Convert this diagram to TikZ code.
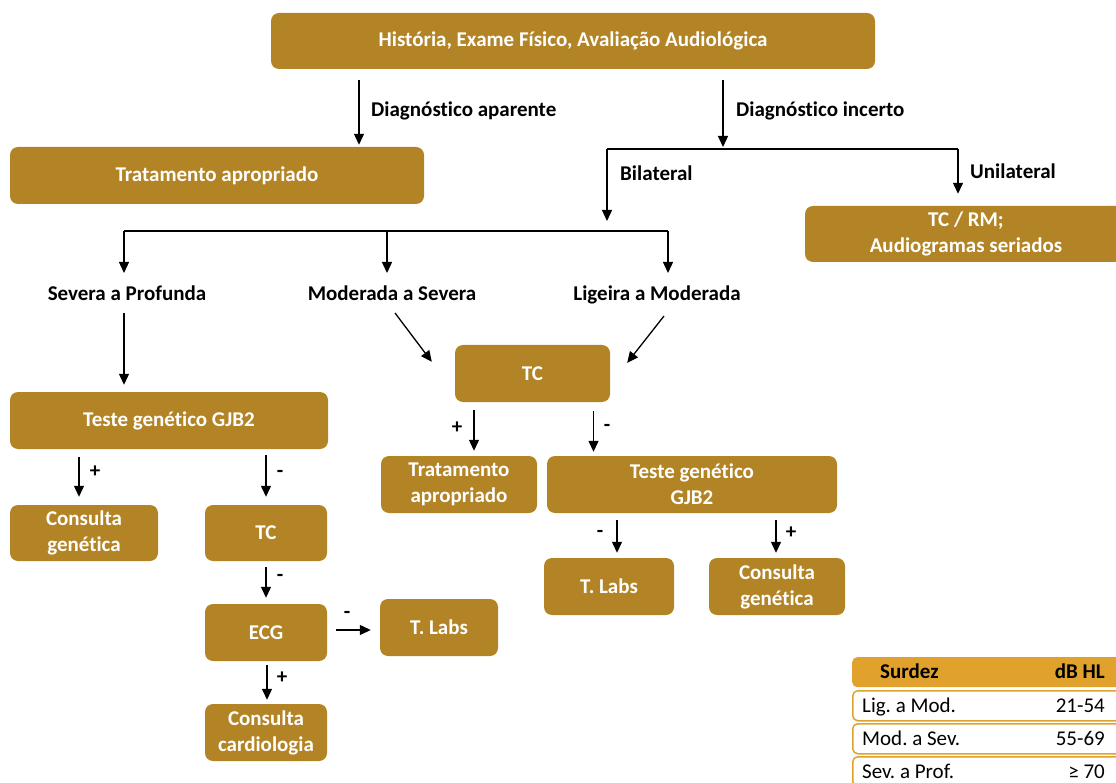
\documentclass[tikz,border=0pt]{standalone}
\usepackage{fontspec}
\setmainfont{Carlito}[Ligatures=NoCommon]
\usetikzlibrary{arrows.meta,calc}
\definecolor{gold}{HTML}{B38425}
\definecolor{hdrgold}{HTML}{E0A22C}
\frenchspacing
\begin{document}
\begin{tikzpicture}[x=1pt,y=-1pt,
  box/.style={fill=gold, rounded corners=8pt, text=white, font=\bfseries\fontsize{21}{26}\selectfont, align=center, inner sep=0pt},
  lbl/.style={font=\bfseries\fontsize{21}{24}\selectfont, text=black, inner sep=0pt},
  tbl/.style={font=\fontsize{21}{24}\selectfont, text=black, inner sep=0pt},
  arr/.style={-{Triangle[length=11pt,width=10pt]}, line width=1.3pt},
  ln/.style={line width=1.3pt},
  hdr/.style={fill=hdrgold, rounded corners=5pt, inner sep=0pt, minimum width=273pt, minimum height=30pt, anchor=north west},
  rowb/.style={draw=hdrgold, fill=white, line width=1.5pt, rounded corners=5pt, inner sep=0pt, minimum width=273pt, minimum height=30pt, anchor=north west}]
\useasboundingbox (0,0) rectangle (1116,783);

% boxes
\node[box, minimum width=604pt, minimum height=56pt] (hist) at (573,41) {História, Exame Físico, Avaliação Audiológica};
\node[box, minimum width=414pt, minimum height=57pt] (trat1) at (217,175.5) {Tratamento apropriado};
\node[box, minimum width=322pt, minimum height=56pt] (tcrm) at (966,234) {TC / RM;\\Audiogramas seriados};
\node[box, minimum width=155pt, minimum height=57pt] (tc1) at (532.5,373.5) {TC};
\node[box, minimum width=318pt, minimum height=57pt] (gjb1) at (169,420.5) {Teste genético GJB2};
\node[box, minimum width=148pt, minimum height=56pt] (cg1) at (84,533) {Consulta\\genética};
\node[box, minimum width=122pt, minimum height=56pt] (tc2) at (266,533) {TC};
\node[box, minimum width=122pt, minimum height=57pt] (ecg) at (266,632.5) {ECG};
\node[box, minimum width=118pt, minimum height=57pt] (tlabs1) at (439,627.5) {T. Labs};
\node[box, minimum width=122pt, minimum height=57pt] (ccard) at (266,732.5) {Consulta\\cardiologia};
\node[box, minimum width=156pt, minimum height=57pt] (trat2) at (459,484.5) {Tratamento\\apropriado};
\node[box, minimum width=290pt, minimum height=57pt] (gjb2) at (692,484.5) {Teste genético\\GJB2};
\node[box, minimum width=130pt, minimum height=57pt] (tlabs2) at (609,586.5) {T. Labs};
\node[box, minimum width=136pt, minimum height=57pt] (cg2) at (777,586.5) {Consulta\\genética};

% category labels
\node[lbl, anchor=base] (sev) at (127,301) {Severa a Profunda};
\node[lbl, anchor=base] (mod) at (392,301) {Moderada a Severa};
\node[lbl, anchor=base] (lig) at (657,301) {Ligeira a Moderada};

% column coordinates
\coordinate (cA) at (359,0);
\coordinate (cB) at (723,0);
\coordinate (cL) at (607,149);
\coordinate (cR) at (958,149);
\coordinate (bL) at (124,231);
\coordinate (bM) at (387,231);
\coordinate (bR) at (668,231);

% top arrows
\draw[arr] ($(hist.south -| cA)+(0,11)$) -- ($(trat1.north -| cA)+(0,-2)$);
\node[lbl, anchor=west] (lda) at (371,111) {Diagnóstico aparente};
\draw[arr] ($(hist.south -| cB)+(0,11)$) -- ($(cL -| cB)+(0,-2)$);
\node[lbl, anchor=west] (ldi) at (736,111) {Diagnóstico incerto};
\draw[ln] (cL) -- (cR);
\draw[arr] (cL) -- ($(cL)+(0,72)$);
\node[lbl, anchor=west] (lbil) at (620,173) {Bilateral};
\draw[arr] (cR) -- ($(tcrm.north -| cR)+(0,-12)$);
\node[lbl, anchor=west] (luni) at (970,171) {Unilateral};

% bilateral branches
\draw[ln] (bL) -- (bR);
\draw[arr] (bL) -- (124,273);
\draw[arr] (bM) -- (387,273);
\draw[arr] (bR) -- (668,273);

% severa -> gjb1
\draw[arr] (124,313) -- ($(gjb1.north -| bL)+(0,-7)$);
% to TC
\draw[arr] (395,313) -- ($(tc1.north west)+(-23,17)$);
\draw[arr] (664,316) -- ($(tc1.north east)+(17,18)$);

% gjb1 branches
\draw[arr] ($(gjb1.south -| cg1)+(-5,8)$) -- ($(cg1.north)+(-5,-8)$);
\node[lbl] (p1) at (95,472) {+};
\draw[arr] ($(gjb1.south -| tc2)+(0,6)$) -- ($(tc2.north)+(0,-8)$);
\node[lbl] (m1) at (280,474) {-};
\draw[arr] ($(tc2.south)+(0,6)$) -- ($(ecg.north)+(0,-6)$);
\node[lbl] (m2) at (280,578) {-};
\draw[arr] ($(ecg.east)+(9,-2.5)$) -- ($(tlabs1.west)+(-9,2.5)$);
\node[lbl] (m3) at (347,615) {-};
\draw[arr] ($(ecg.south)+(1,4)$) -- ($(ccard.north)+(1,-4)$);
\node[lbl] (p2) at (282,678) {+};

% tc1 branches
\draw[arr] ($(tc1.south -| trat2)+(15,8)$) -- ($(trat2.north)+(15,-5)$);
\node[lbl] (p3) at (457,428) {+};
\draw[arr] ($(tc1.south)+(61,9)$) -- ($(gjb2.north -| tc1)+(61,-4)$);
\node[lbl] (m4) at (607,428) {-};

% gjb2 branches
\draw[arr] ($(gjb2.south -| tlabs2)+(8,7)$) -- ($(tlabs2.north)+(8,-5)$);
\node[lbl] (m5) at (600,534) {-};
\draw[arr] ($(gjb2.south -| cg2)+(-1,7)$) -- ($(cg2.north)+(-1,-5)$);
\node[lbl] (p4) at (791,533) {+};

% table
\node[hdr] (th) at (852,657) {};
\node[lbl, anchor=base west] (th1) at (880,678) {Surdez};
\node[lbl, anchor=base east] (th2) at (1105,678) {dB HL};
\node[rowb] (r1) at (852,690) {};
\node[tbl, anchor=base west] (r1a) at (862,712) {Lig. a Mod.};
\node[tbl, anchor=base east] (r1b) at (1105,712) {21-54};
\node[rowb] (r2) at (852,723) {};
\node[tbl, anchor=base west] (r2a) at (862,745) {Mod. a Sev.};
\node[tbl, anchor=base east] (r2b) at (1105,745) {55-69};
\node[rowb] (r3) at (852,756) {};
\node[tbl, anchor=base west] (r3a) at (862,778) {Sev. a Prof.};
\node[tbl, anchor=base east] (r3b) at (1105,778) {≥ 70};
\end{tikzpicture}
\end{document}
